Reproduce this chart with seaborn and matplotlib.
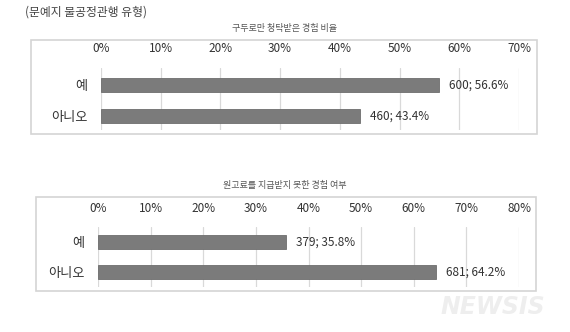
import matplotlib
matplotlib.use("Agg")
import matplotlib.pyplot as plt
import seaborn as sns
import pandas as pd
from matplotlib.patches import Rectangle

sns.set_theme(style="white")
plt.rcParams['font.family'] = ['Noto Sans CJK KR', 'DejaVu Sans']

header = "(문예지 불공정관행 유형)"
categories = ["예", "아니오"]

title1 = "구두로만 청탁받은 경험 비율"
counts1 = [600, 460]
pcts1 = [56.6, 43.4]
ticks1 = [0, 10, 20, 30, 40, 50, 60, 70]

title2 = "원고료를 지급받지 못한 경험 여부"
counts2 = [379, 681]
pcts2 = [35.8, 64.2]
ticks2 = [0, 10, 20, 30, 40, 50, 60, 70, 80]

W, H = 570, 332
fig = plt.figure(figsize=(W / 100, H / 100), dpi=100)
fig.patch.set_facecolor("white")

BAR = "#7b7b7b"
GRID = "#d9d9d9"
BOX = "#d4d4d4"
TXT = "#333333"


def px_rect(x0, y0, x1, y1):
    return [x0 / W, 1 - y1 / H, (x1 - x0) / W, (y1 - y0) / H]


def draw_panel(title, counts, pcts, ticks, axrect, box, title_y, ylim, width):
    bx0, by0, bx1, by1 = box
    fig.patches.append(Rectangle((bx0 / W, 1 - by1 / H), (bx1 - bx0) / W, (by1 - by0) / H,
                                 transform=fig.transFigure, fill=False,
                                 edgecolor=BOX, linewidth=1.2))
    fig.text(285 / W, 1 - title_y / H, title, ha="center", va="center",
             fontsize=6.5, color="#555555")
    ax = fig.add_axes(px_rect(*axrect))
    ax.set_facecolor("none")
    df = pd.DataFrame({"cat": categories, "pct": pcts})
    sns.barplot(data=df, x="pct", y="cat", orient="h", color=BAR, width=width,
                saturation=1, ax=ax, edgecolor="#6e6e6e", linewidth=0.6)
    ax.set_xlim(ticks[0], ticks[-1])
    ax.set_ylim(*ylim)
    ax.set_xticks(ticks)
    ax.set_xticklabels([f"{t}%" for t in ticks])
    ax.xaxis.tick_top()
    ax.tick_params(axis="x", length=0, pad=9, labelsize=8.5, colors=TXT)
    ax.tick_params(axis="y", length=0, pad=10, labelsize=9.5, colors=TXT)
    ax.grid(axis="x", color=GRID, linewidth=0.9)
    ax.set_axisbelow(True)
    for s in ax.spines.values():
        s.set_visible(False)
    ax.set_xlabel("")
    ax.set_ylabel("")
    for i, (c, p) in enumerate(zip(counts, pcts)):
        ax.annotate(f"{c}; {p}%", xy=(p, i), xytext=(7, 0), textcoords="offset points",
                    ha="left", va="center", fontsize=8.5, color=TXT)
    return ax


fig.text(25 / W, 1 - 12 / H, header, ha="left", va="center", fontsize=8.5, color="#444444")

draw_panel(title1, counts1, pcts1, ticks1,
           (101, 68, 519, 130), (31, 40, 537, 134), 28, (1.45, -0.55), 0.45)
draw_panel(title2, counts2, pcts2, ticks2,
           (98, 227, 519, 287), (36, 197, 536, 291), 185, (1.5, -0.5), 0.47)

fig.text(545 / W, 1 - 307 / H, "NEWSIS", ha="right", va="center", fontsize=17,
         fontweight="bold", style="italic", color="#eeeeee", family="DejaVu Sans")

fig.savefig("out.png", dpi=100, facecolor="white")
